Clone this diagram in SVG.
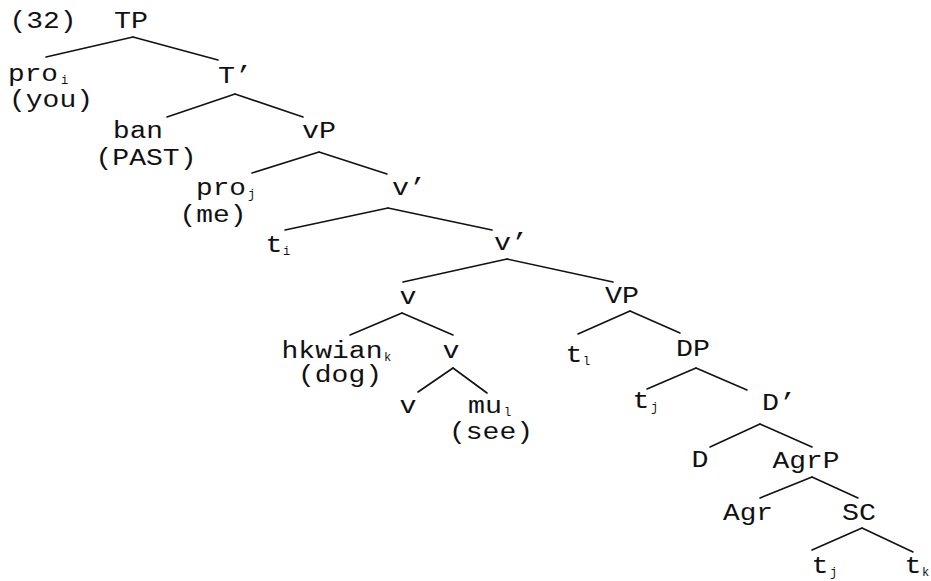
<svg xmlns="http://www.w3.org/2000/svg" width="931" height="581" viewBox="0 0 931 581">
<style>
text{font-family:"Liberation Mono","Courier New",monospace;font-size:23px;fill:#111;text-anchor:middle}
text.sub{font-size:12px;text-anchor:start}
#edges line{stroke:#111;stroke-width:1.6;stroke-linecap:round}
</style>
<rect width="931" height="581" fill="#fff"/>
<g id="edges">
<line x1="133" y1="37" x2="46" y2="57"/><line x1="133" y1="37" x2="218" y2="60"/>
<line x1="235" y1="94" x2="167" y2="117"/><line x1="235" y1="94" x2="303" y2="117"/>
<line x1="319" y1="152" x2="252" y2="173"/><line x1="319" y1="152" x2="387" y2="174"/>
<line x1="388" y1="208" x2="285" y2="230"/><line x1="388" y1="208" x2="492" y2="230"/>
<line x1="507" y1="259" x2="403" y2="282"/><line x1="507" y1="259" x2="613" y2="282"/>
<line x1="402" y1="313" x2="350" y2="335"/><line x1="402" y1="313" x2="453" y2="335"/>
<line x1="453" y1="368" x2="418" y2="392"/><line x1="453" y1="368" x2="487" y2="393"/>
<line x1="630" y1="311" x2="578" y2="334"/><line x1="630" y1="311" x2="680" y2="333"/>
<line x1="696" y1="368" x2="647" y2="389"/><line x1="696" y1="368" x2="747" y2="390"/>
<line x1="760" y1="424" x2="710" y2="447"/><line x1="760" y1="424" x2="812" y2="447"/>
<line x1="812" y1="477" x2="760" y2="498"/><line x1="812" y1="477" x2="858" y2="498"/>
<line x1="862" y1="528" x2="812" y2="550"/><line x1="862" y1="528" x2="913" y2="552"/>
</g>
<g id="label-32"><text x="43" y="28" textLength="67" lengthAdjust="spacingAndGlyphs">(32)</text></g>
<g id="n-TP"><text x="131" y="28" textLength="34" lengthAdjust="spacingAndGlyphs">TP</text></g>
<g id="n-pro-i"><text x="33" y="81" textLength="50" lengthAdjust="spacingAndGlyphs">pro</text><text class="sub" x="61" y="84">i</text><text x="51" y="107" textLength="84" lengthAdjust="spacingAndGlyphs">(you)</text></g>
<g id="n-Tbar"><text x="235" y="83" textLength="34" lengthAdjust="spacingAndGlyphs">T’</text></g>
<g id="n-ban"><text x="138" y="138" textLength="50" lengthAdjust="spacingAndGlyphs">ban</text><text x="146" y="165" textLength="101" lengthAdjust="spacingAndGlyphs">(PAST)</text></g>
<g id="n-vP"><text x="319" y="138" textLength="34" lengthAdjust="spacingAndGlyphs">vP</text></g>
<g id="n-pro-j"><text x="221" y="195" textLength="50" lengthAdjust="spacingAndGlyphs">pro</text><text class="sub" x="248" y="198">j</text><text x="213" y="222" textLength="67" lengthAdjust="spacingAndGlyphs">(me)</text></g>
<g id="n-vbar1"><text x="409" y="195" textLength="34" lengthAdjust="spacingAndGlyphs">v’</text></g>
<g id="n-t-i"><text x="274" y="252" textLength="17" lengthAdjust="spacingAndGlyphs">t</text><text class="sub" x="283" y="255">i</text></g>
<g id="n-vbar2"><text x="511" y="250" textLength="34" lengthAdjust="spacingAndGlyphs">v’</text></g>
<g id="n-v1"><text x="408" y="304" textLength="17" lengthAdjust="spacingAndGlyphs">v</text></g>
<g id="n-VP"><text x="622" y="303" textLength="34" lengthAdjust="spacingAndGlyphs">VP</text></g>
<g id="n-hkwian"><text x="332" y="358" textLength="101" lengthAdjust="spacingAndGlyphs">hkwian</text><text class="sub" x="384" y="361">k</text><text x="340" y="382" textLength="84" lengthAdjust="spacingAndGlyphs">(dog)</text></g>
<g id="n-v2"><text x="451" y="358" textLength="17" lengthAdjust="spacingAndGlyphs">v</text></g>
<g id="n-t-l1"><text x="574" y="362" textLength="17" lengthAdjust="spacingAndGlyphs">t</text><text class="sub" x="583" y="365">l</text></g>
<g id="n-DP"><text x="693" y="356" textLength="34" lengthAdjust="spacingAndGlyphs">DP</text></g>
<g id="n-v3"><text x="408" y="413" textLength="17" lengthAdjust="spacingAndGlyphs">v</text></g>
<g id="n-mu"><text x="485" y="413" textLength="34" lengthAdjust="spacingAndGlyphs">mu</text><text class="sub" x="504" y="416">l</text><text x="491" y="439" textLength="84" lengthAdjust="spacingAndGlyphs">(see)</text></g>
<g id="n-t-j1"><text x="641" y="408" textLength="17" lengthAdjust="spacingAndGlyphs">t</text><text class="sub" x="651" y="411">j</text></g>
<g id="n-Dbar"><text x="779" y="410" textLength="34" lengthAdjust="spacingAndGlyphs">D’</text></g>
<g id="n-D"><text x="700" y="467" textLength="17" lengthAdjust="spacingAndGlyphs">D</text></g>
<g id="n-AgrP"><text x="806" y="468" textLength="67" lengthAdjust="spacingAndGlyphs">AgrP</text></g>
<g id="n-Agr"><text x="748" y="520" textLength="50" lengthAdjust="spacingAndGlyphs">Agr</text></g>
<g id="n-SC"><text x="859" y="520" textLength="34" lengthAdjust="spacingAndGlyphs">SC</text></g>
<g id="n-t-j2"><text x="820" y="573" textLength="17" lengthAdjust="spacingAndGlyphs">t</text><text class="sub" x="830" y="576">j</text></g>
<g id="n-t-k"><text x="913" y="573" textLength="17" lengthAdjust="spacingAndGlyphs">t</text><text class="sub" x="922" y="576">k</text></g>
</svg>
